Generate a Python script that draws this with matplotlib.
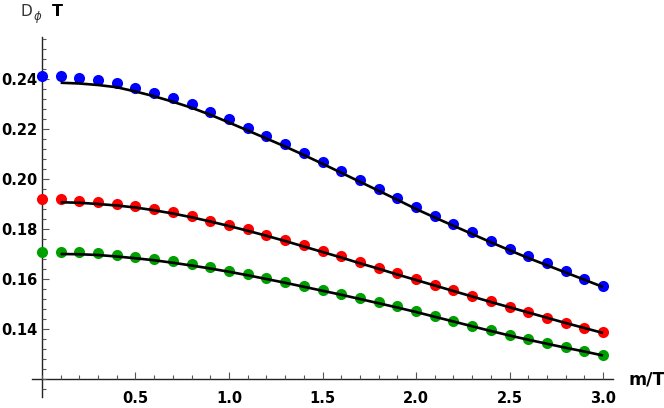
import numpy as np
import matplotlib.pyplot as plt
from matplotlib.ticker import MultipleLocator, FixedLocator

# points at m/T = 0, 0.1, ..., 3.0
x_pts = np.round(np.arange(0, 31) * 0.1, 1)
blue_pts = [0.2413, 0.2413, 0.2405, 0.2395, 0.2383, 0.2364, 0.2345, 0.2323, 0.2299, 0.2269,
            0.2239, 0.2205, 0.2172, 0.2139, 0.2103, 0.2067, 0.2031, 0.1995, 0.1959, 0.1923,
            0.1887, 0.1853, 0.1820, 0.1787, 0.1753, 0.1721, 0.1691, 0.1663, 0.1632, 0.1601,
            0.1573]
red_pts = [0.1919, 0.1919, 0.1913, 0.1908, 0.1901, 0.1892, 0.1881, 0.1867, 0.1851, 0.1833,
           0.1817, 0.1799, 0.1777, 0.1756, 0.1735, 0.1712, 0.1691, 0.1668, 0.1645, 0.1623,
           0.1600, 0.1576, 0.1556, 0.1532, 0.1511, 0.1488, 0.1467, 0.1445, 0.1425, 0.1405,
           0.1386]
green_pts = [0.1709, 0.1709, 0.1707, 0.1703, 0.1697, 0.1689, 0.1680, 0.1671, 0.1659, 0.1647,
             0.1633, 0.1620, 0.1605, 0.1589, 0.1573, 0.1556, 0.1540, 0.1524, 0.1508, 0.1490,
             0.1471, 0.1452, 0.1433, 0.1413, 0.1394, 0.1376, 0.1359, 0.1343, 0.1327, 0.1312,
             0.1295]

# black curves, m/T = 0.1 ... 3.0
x_line = x_pts[1:]
blue_line = [0.2385, 0.2382, 0.2376, 0.2367, 0.2350, 0.2331, 0.2309, 0.2285, 0.2257, 0.2226,
             0.2194, 0.2162, 0.2130, 0.2096, 0.2061, 0.2025, 0.1989, 0.1953, 0.1917, 0.1880,
             0.1846, 0.1813, 0.1780, 0.1747, 0.1715, 0.1684, 0.1655, 0.1626, 0.1597, 0.1568]
red_line = [0.1907, 0.1905, 0.1900, 0.1894, 0.1886, 0.1875, 0.1862, 0.1847, 0.1830, 0.1812,
            0.1793, 0.1773, 0.1752, 0.1730, 0.1708, 0.1686, 0.1663, 0.1641, 0.1618, 0.1596,
            0.1574, 0.1552, 0.1530, 0.1508, 0.1487, 0.1466, 0.1445, 0.1424, 0.1404, 0.1384]
green_line = [0.1700, 0.1699, 0.1696, 0.1690, 0.1683, 0.1675, 0.1665, 0.1654, 0.1642, 0.1629,
              0.1615, 0.1600, 0.1585, 0.1569, 0.1553, 0.1537, 0.1520, 0.1503, 0.1486, 0.1468,
              0.1449, 0.1430, 0.1411, 0.1392, 0.1374, 0.1357, 0.1341, 0.1325, 0.1310, 0.1294]

x_ticks = [0.5, 1.0, 1.5, 2.0, 2.5, 3.0]
y_ticks = [0.14, 0.16, 0.18, 0.20, 0.22, 0.24]

plt.rcParams['font.family'] = ['DejaVu Sans']

fig = plt.figure(figsize=(6.64, 4.08), dpi=100)
ax = fig.add_axes([32/664, 1-397/408, (613-32)/664, (397-37)/408])

ms = 8.0
ax.plot(x_pts, blue_pts, 'o', color='#0000ff', ms=ms, mec='none', zorder=2)
ax.plot(x_pts, red_pts, 'o', color='#ff0000', ms=ms, mec='none', zorder=2)
ax.plot(x_pts, green_pts, 'o', color='#00a000', ms=ms, mec='none', zorder=2)
for yl in (blue_line, red_line, green_line):
    ax.plot(x_line, yl, color='black', lw=1.9, zorder=3, solid_capstyle='butt')

ax.set_xlim(-0.053, 3.053)
ax.set_ylim(0.1128, 0.2568)

for s in ('top', 'right'):
    ax.spines[s].set_visible(False)
ax.spines['left'].set_position(('data', 0))
ax.spines['bottom'].set_position(('data', 0.12))
for s in ('left', 'bottom'):
    ax.spines[s].set_color('#222222')
    ax.spines[s].set_linewidth(1.0)
    ax.spines[s].set_zorder(1)

ax.xaxis.set_major_locator(FixedLocator(x_ticks))
ax.xaxis.set_minor_locator(MultipleLocator(0.1))
ax.yaxis.set_major_locator(FixedLocator(y_ticks))
ax.yaxis.set_minor_locator(MultipleLocator(0.004))
ax.set_xticklabels(['%.1f' % v for v in x_ticks])
ax.set_yticklabels(['%.2f' % v for v in y_ticks])
ax.tick_params(which='both', direction='in', color='#555555', width=0.8)
ax.tick_params(which='major', length=5)
ax.tick_params(which='minor', length=3)
ax.tick_params(axis='x', pad=9)
ax.tick_params(axis='y', pad=3)
for lab in ax.get_xticklabels() + ax.get_yticklabels():
    lab.set_fontsize(10.5)
    lab.set_fontweight('bold')

# axis labels
fig.text(628/664, 1-380/408, 'm/T', fontsize=12.5, fontweight='bold', va='center', ha='left')
fig.text(21/664, 1-11.5/408, 'D', fontsize=11, color='#333333', va='center', ha='left')
fig.text(33/664, 1-17/408, r'$\phi$', fontsize=8.5, color='#333333', va='center', ha='left')
fig.text(52/664, 1-11.5/408, 'T', fontsize=11.5, fontweight='bold', va='center', ha='left')

fig.savefig('out.png', dpi=100)
